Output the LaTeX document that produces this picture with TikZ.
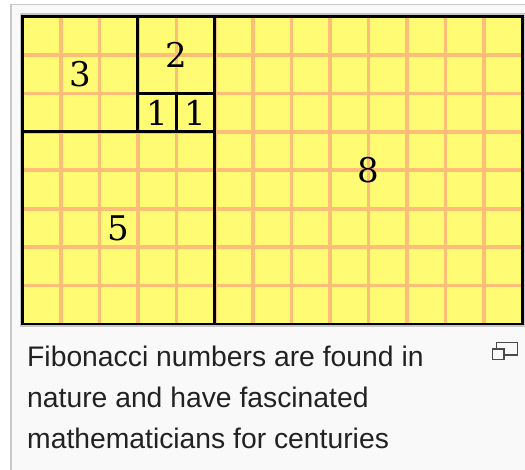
\documentclass[tikz,border=0pt]{standalone}
\usepackage{fontspec}
\setmainfont{DejaVu Serif}
\setsansfont{Liberation Sans}
\usepackage{tikz}
\definecolor{paper}{HTML}{F9F9F9}
\definecolor{rim}{HTML}{C8C8C8}
\definecolor{fyel}{HTML}{FFFB73}
\definecolor{fgrid}{HTML}{FFBE78}
\definecolor{capink}{HTML}{222222}
\definecolor{icon}{HTML}{4A4A4A}
\def\cellw{38.45pt}
\tikzset{
  sq/.style={draw=black,line width=2.8pt,inner sep=0pt,minimum size=#1*\cellw,font=\fontsize{34}{34}\selectfont},
  gridln/.style={draw=fgrid,line width=3.6pt},
  captxt/.style={anchor=north west,inner sep=0pt,align=left,text=capink,font=\sffamily\fontsize{28.3}{40.8}\selectfont},
  enl/.style={draw=icon,line width=1.4pt},
}
\begin{document}
\begin{tikzpicture}[x=1pt,y=-1pt]
  \useasboundingbox (0,0) rectangle (525,470);
  \fill[white] (0,0) rectangle (525,470);
  \draw[rim,fill=paper,line width=1.6pt] (11,4.5) rectangle (540,490);
  \begin{scope}[shift={(22.5,16.5)},x=\cellw,y=-\cellw]
    \draw[rim,line width=6pt] (0,0) rectangle (13,8);
    \fill[fyel] (0,0) rectangle (13,8);
    \foreach \i in {1,...,12} \draw[gridln] (\i,0) -- (\i,8);
    \foreach \j in {1,...,7} \draw[gridln] (0,\j) -- (13,\j);
    \node[sq=3] (s3) at (1.5,1.5) {3};
    \node[sq=2] (s2) at (4,1) {2};
    \node[sq=1] (s1a) at (3.5,2.5) {1};
    \node[sq=1] (s1b) at (4.5,2.5) {1};
    \node[sq=5] (s5) at (2.5,5.5) {5};
    \node[sq=8] (s8) at (9,4) {8};
  \end{scope}
  \node[captxt] (caption) at (27,346) {Fibonacci numbers are found in\\nature and have fascinated\\mathematicians for centuries};
  \draw[enl] (496.7,342.3) rectangle (517.3,355);
  \draw[enl,fill=paper] (492.3,349) rectangle (504,359.3);
\end{tikzpicture}
\end{document}
